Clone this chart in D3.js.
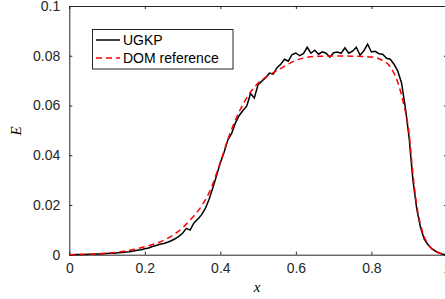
<!DOCTYPE html>
<html>
<head>
<meta charset="utf-8">
<script src="https://cdn.jsdelivr.net/npm/d3@7"></script>
<style>
  body { margin: 0; background: #fff; }
  .tick text { font-family: "Liberation Sans", Arial, sans-serif; font-size: 14px; fill: #262626; }
  .legend text { font-family: "Liberation Sans", Arial, sans-serif; font-size: 14px; fill: #000; }
</style>
</head>
<body>
<script>
// x positions of the UGKP samples
var ugkpX = d3.range(0, 101).map(function(i) { return i / 100; });
var ugkpE = [
  0.0000, 0.0000, 0.0001, 0.0001, 0.0001, 0.0002, 0.0002, 0.0003, 0.0003, 0.0004,
  0.0005, 0.0006, 0.0006, 0.0008, 0.0009, 0.0011, 0.0012, 0.0015, 0.0018, 0.0020,
  0.0024, 0.0027, 0.0033, 0.0037, 0.0042, 0.0045, 0.0050, 0.0056, 0.0064, 0.0074,
  0.0086, 0.0106, 0.0099, 0.0128, 0.0143, 0.0160, 0.0185, 0.0222, 0.0268, 0.0318,
  0.0370, 0.0412, 0.0462, 0.0488, 0.0530, 0.0560, 0.0580, 0.0598, 0.0648, 0.0630,
  0.0684, 0.0698, 0.0712, 0.0730, 0.0726, 0.0752, 0.0766, 0.0786, 0.0778, 0.0805,
  0.0811, 0.0800, 0.0808, 0.0834, 0.0810, 0.0822, 0.0806, 0.0816, 0.0810, 0.0794,
  0.0812, 0.0815, 0.0810, 0.0832, 0.0810, 0.0818, 0.0834, 0.0802, 0.0820, 0.0847,
  0.0815, 0.0818, 0.0808, 0.0806, 0.0790, 0.0786, 0.0766, 0.0738, 0.0690, 0.0590,
  0.0470, 0.0300, 0.0185, 0.0110, 0.0062, 0.0040, 0.0024, 0.0014, 0.0007, 0.0002,
  0.0000
];

var domX = [0, 0.05, 0.1, 0.15, 0.2, 0.25, 0.3, 0.325, 0.35, 0.375, 0.4, 0.425, 0.45, 0.475,
            0.5, 0.525, 0.55, 0.575, 0.6, 0.625, 0.65, 0.7, 0.75, 0.8, 0.825, 0.85, 0.87,
            0.885, 0.9, 0.91, 0.92, 0.93, 0.94, 0.95, 0.97, 1.0];
var domE = [0, 0.0002, 0.0006, 0.0015, 0.0032, 0.0058, 0.0108, 0.0148, 0.0195, 0.0265, 0.0372,
            0.0485, 0.0575, 0.0643, 0.0690, 0.0718, 0.0740, 0.0762, 0.0782, 0.0792, 0.0797,
            0.0799, 0.0798, 0.0795, 0.0785, 0.0755, 0.0692, 0.0609, 0.0485, 0.0325, 0.0200,
            0.0122, 0.0072, 0.0042, 0.0013, 0];

var xTicks = [0, 0.2, 0.4, 0.6, 0.8, 1];
var yTicks = [0, 0.02, 0.04, 0.06, 0.08, 0.1];
var seriesNames = ["UGKP", "DOM reference"];

var W = 445, H = 299;
var margin = { top: 6, left: 69.3 };
var width = 377.6, height = 248.7;

var svg = d3.select("body").append("svg")
    .attr("width", W)
    .attr("height", H);

var g = svg.append("g")
    .attr("transform", "translate(" + margin.left + "," + margin.top + ")");

var x = d3.scaleLinear().domain([0, 1]).range([0, width]);
var y = d3.scaleLinear().domain([0, 0.1]).range([height, 0]);

var fmt = function(d) { return d === 0 ? "0" : d3.format("~g")(d); };

// axes, ticks inside like matlab
var xAxis = g.append("g")
    .attr("transform", "translate(0," + height + ")")
    .call(d3.axisBottom(x).tickValues(xTicks).tickFormat(fmt).tickSizeInner(-3).tickSizeOuter(0).tickPadding(8));
var xTop = g.append("g")
    .call(d3.axisTop(x).tickValues(xTicks).tickFormat("").tickSizeInner(-3).tickSizeOuter(0));
var yAxis = g.append("g")
    .call(d3.axisLeft(y).tickValues(yTicks).tickFormat(fmt).tickSizeInner(-3).tickSizeOuter(0).tickPadding(9));
var yRight = g.append("g")
    .attr("transform", "translate(" + width + ",0)")
    .call(d3.axisRight(y).tickValues(yTicks).tickFormat("").tickSizeInner(-3).tickSizeOuter(0));

[xAxis, xTop, yAxis, yRight].forEach(function(a) {
    a.selectAll("path, line").attr("stroke", "#262626").attr("stroke-width", 1);
});

// curves
var ugkp = ugkpX.map(function(d, i) { return [d, ugkpE[i]]; });
var dom = domX.map(function(d, i) { return [d, domE[i]]; });

var line = d3.line()
    .x(function(d) { return x(d[0]); })
    .y(function(d) { return y(d[1]); });

g.append("path")
    .datum(ugkp)
    .attr("d", line)
    .attr("fill", "none")
    .attr("stroke", "#000")
    .attr("stroke-width", 1.5);

g.append("path")
    .datum(dom)
    .attr("d", line.curve(d3.curveMonotoneX))
    .attr("fill", "none")
    .attr("stroke", "#ff0000")
    .attr("stroke-width", 1.5)
    .attr("stroke-dasharray", "6,4");

// axis labels
svg.append("text")
    .attr("x", 257)
    .attr("y", 292)
    .attr("text-anchor", "middle")
    .style("font-family", "'Liberation Serif', 'Times New Roman', serif")
    .style("font-style", "italic")
    .style("font-size", "15px")
    .text("x");

svg.append("text")
    .attr("transform", "translate(21,131) rotate(-90)")
    .attr("text-anchor", "middle")
    .style("font-family", "'Liberation Serif', 'Times New Roman', serif")
    .style("font-style", "italic")
    .style("font-size", "15px")
    .text("E");

// legend
var legend = svg.append("g").attr("class", "legend");
legend.append("rect")
    .attr("x", 92.5).attr("y", 29.5)
    .attr("width", 140.5).attr("height", 39.5)
    .attr("fill", "#fff")
    .attr("stroke", "#262626")
    .attr("stroke-width", 1);

var items = legend.selectAll(".item")
    .data(seriesNames)
    .enter().append("g")
    .attr("class", "item")
    .attr("transform", function(d, i) { return "translate(0," + (40 + i * 18) + ")"; });

items.append("line")
    .attr("x1", 96).attr("x2", 120)
    .attr("y1", 0).attr("y2", 0)
    .attr("stroke", function(d, i) { return i === 0 ? "#000" : "#ff0000"; })
    .attr("stroke-width", 1.5)
    .attr("stroke-dasharray", function(d, i) { return i === 0 ? null : "6,4"; });

items.append("text")
    .attr("x", 123)
    .attr("y", 5)
    .text(function(d) { return d; });
</script>
</body>
</html>
